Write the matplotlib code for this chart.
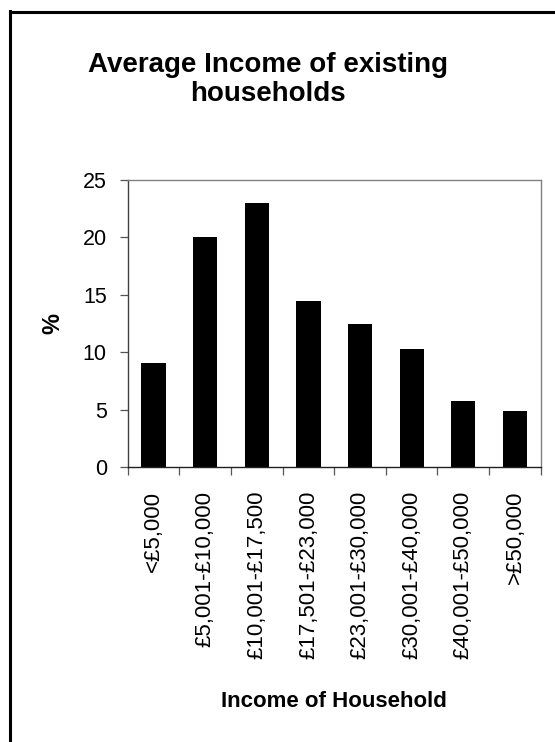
import numpy as np
import matplotlib.pyplot as plt
from matplotlib.lines import Line2D

# data
categories = ['<£5,000', '£5,001-£10,000', '£10,001-£17,500', '£17,501-£23,000',
              '£23,001-£30,000', '£30,001-£40,000', '£40,001-£50,000', '>£50,000']
percent = [9.1, 20.0, 23.0, 14.5, 12.5, 10.3, 5.8, 4.9]
y_ticks = [0, 5, 10, 15, 20, 25]

plt.rcParams['font.family'] = ['Liberation Sans', 'DejaVu Sans']

W, H = 555, 742
fig = plt.figure(figsize=(W / 100, H / 100), dpi=100)
fig.patch.set_facecolor('white')

# outer frame (only top and left edges are inside the picture)
fig.add_artist(Line2D([9.5 / W, 1.0], [1 - 12 / H, 1 - 12 / H], transform=fig.transFigure,
                      color='black', lw=2.2))
fig.add_artist(Line2D([10 / W, 10 / W], [0.0, 1 - 11 / H], transform=fig.transFigure,
                      color='black', lw=2.2))

ax = fig.add_axes([127.7 / W, 1 - 467.3 / H, 413 / W, 287.3 / H])
x = np.arange(len(categories))
ax.bar(x, percent, width=0.47, color='black')

ax.set_xlim(-0.5, len(categories) - 0.5)
ax.set_ylim(0, 25)
ax.set_yticks(y_ticks)
ax.tick_params(axis='y', direction='out', length=6, width=0.9, color='#555555',
               labelsize=15.5, pad=9)

# ticks on category boundaries, labels at bar centres
ax.set_xticks(np.arange(-0.5, len(categories), 1.0))
ax.set_xticklabels([])
ax.set_xticks(x, minor=True)
ax.set_xticklabels(categories, minor=True, rotation=90, va='top', ha='center')
ax.tick_params(axis='x', which='major', direction='out', length=6, width=0.9, color='#555555')
ax.tick_params(axis='x', which='minor', length=0, labelsize=16, pad=17)

for side in ['top', 'right']:
    ax.spines[side].set_color('#808080')
    ax.spines[side].set_linewidth(1.0)
ax.spines['left'].set_color('#404040')
ax.spines['bottom'].set_color('#202020')
ax.spines['left'].set_linewidth(1.0)
ax.spines['bottom'].set_linewidth(1.0)

ax.set_ylabel('%', fontsize=17, fontweight='bold', labelpad=13)
ax.set_xlabel('Income of Household', fontsize=16, fontweight='bold', labelpad=23)

fig.text(268 / W, 1 - 52 / H, 'Average Income of existing\nhouseholds', ha='center', va='top',
         fontsize=20, fontweight='bold', linespacing=1.15)

fig.savefig('out.png', dpi=100)
